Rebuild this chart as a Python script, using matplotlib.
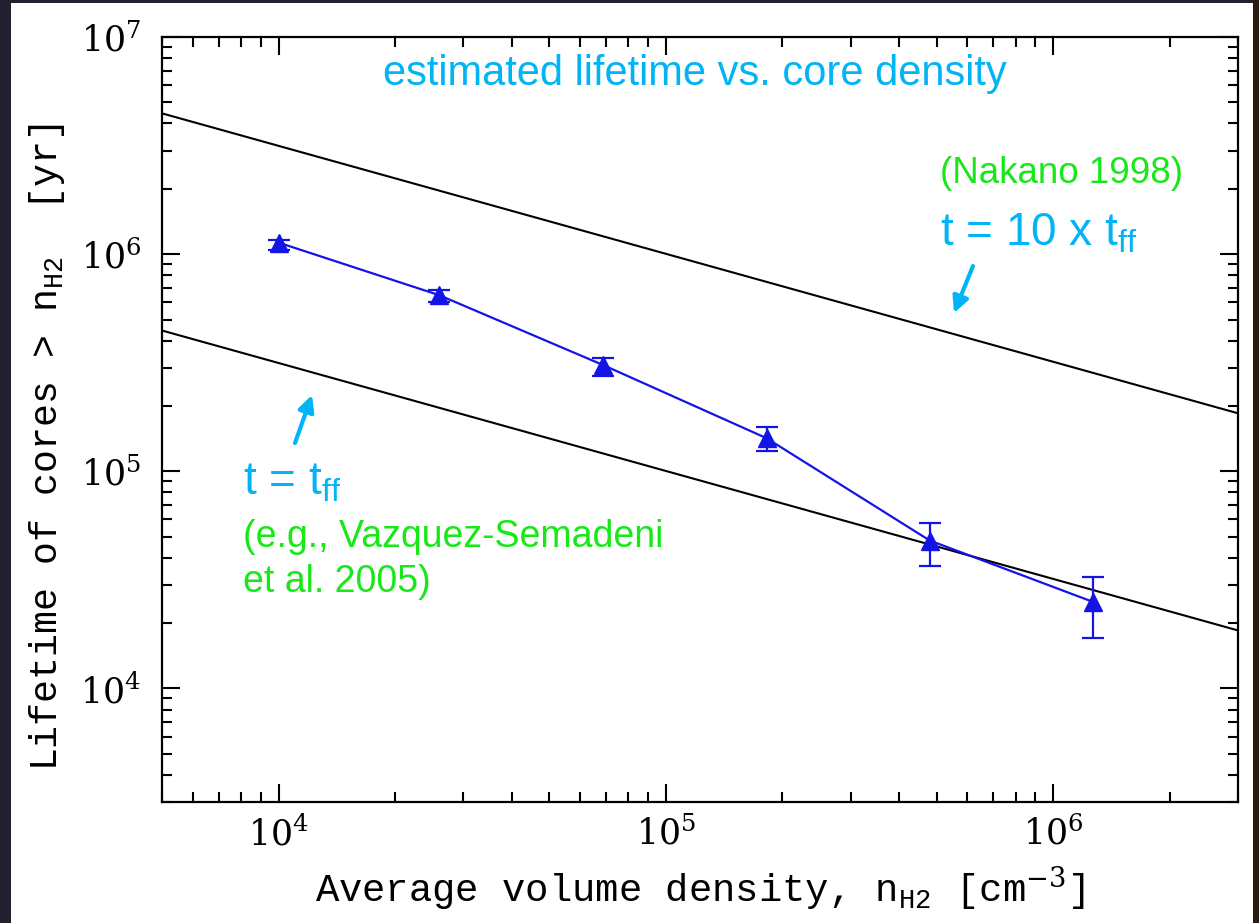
import matplotlib
matplotlib.use('Agg')
import matplotlib.pyplot as plt
from matplotlib.patches import Rectangle, FancyArrowPatch
from matplotlib.ticker import LogLocator, NullFormatter

# measured core lifetimes
density = [1.0e4, 2.6e4, 6.9e4, 1.82e5, 4.8e5, 1.27e6]
lifetime = [1.13e6, 6.47e5, 3.08e5, 1.42e5, 4.8e4, 2.5e4]
life_hi = [1.16e6, 6.82e5, 3.31e5, 1.6e5, 5.75e4, 3.25e4]
life_lo = [1.05e6, 6.01e5, 2.74e5, 1.24e5, 3.65e4, 1.7e4]

# free-fall time lines (end points)
theory_n = [5e3, 3e6]
tff_1 = [4.45e5, 1.85e4]
tff_10 = [4.45e6, 1.85e5]

W, H = 1259, 923
sky = '#00b4f5'
green = '#18e818'
blue = '#1414e6'

plt.rcParams['font.family'] = 'DejaVu Serif'
plt.rcParams['mathtext.fontset'] = 'custom'
plt.rcParams['mathtext.rm'] = 'DejaVu Serif'
plt.rcParams['mathtext.tt'] = 'Liberation Mono'
plt.rcParams['mathtext.sf'] = 'Liberation Sans'

fig = plt.figure(figsize=(W/100, H/100), dpi=100, facecolor='#231f30')
fig.patches.append(Rectangle((11/W, 0), (1253-11)/W, 1-3/H, transform=fig.transFigure,
                             facecolor='white', edgecolor='none', zorder=-2))
fig.patches.append(Rectangle((1253/W, 0), 6/W, 1, transform=fig.transFigure,
                             facecolor='#2b1c10', edgecolor='none', zorder=-2))

ax = fig.add_axes([162/W, 1-802/H, (1238-162)/W, (802-37)/H])
ax.set_zorder(1)
ax.set_xscale('log')
ax.set_yscale('log')
ax.set_xlim(5e3, 3e6)
ax.set_ylim(3e3, 1e7)

ax.plot(theory_n, tff_10, color='black', lw=1.5)
ax.plot(theory_n, tff_1, color='black', lw=1.5)

yerr = [[t - lo for t, lo in zip(lifetime, life_lo)],
        [hi - t for t, hi in zip(lifetime, life_hi)]]
ax.errorbar(density, lifetime, yerr=yerr, color=blue, lw=1.6, marker='^',
            markersize=12.5, capsize=8, capthick=1.6, elinewidth=1.6)

for s in ax.spines.values():
    s.set_linewidth(1.6)
ax.tick_params(which='both', direction='in', top=True, right=True, width=1.5)
ax.tick_params(which='major', length=13, labelsize=25)
ax.tick_params(which='minor', length=7)
ax.tick_params(axis='x', pad=10)
ax.tick_params(axis='y', pad=15)
ax.xaxis.set_minor_locator(LogLocator(subs=range(2, 10)))
ax.yaxis.set_minor_locator(LogLocator(subs=range(2, 10)))
ax.xaxis.set_minor_formatter(NullFormatter())
ax.yaxis.set_minor_formatter(NullFormatter())

fig.text(700/W, 1-902/H, r'Average volume density, n$_{\mathtt{H2}}$ [cm$^{-3}$]',
         family='Liberation Mono', fontsize=28, ha='center', va='baseline')
fig.text(57/W, 1-447/H, r'Lifetime of cores > n$_{\mathtt{H2}}$  [yr]',
         family='Liberation Mono', fontsize=27.5, ha='center', va='baseline',
         rotation=90, rotation_mode='anchor')

# annotations
fig.text(695/W, 1-85/H, 'estimated lifetime vs. core density', color=sky,
         family='Liberation Sans', fontsize=30, ha='center', va='baseline')
fig.text(940/W, 1-183/H, '(Nakano 1998)', color=green,
         family='Liberation Sans', fontsize=26.5, va='baseline')
fig.text(940/W, 1-245/H, r't = 10 x t$_{\mathsf{ff}}$', color=sky,
         family='Liberation Sans', fontsize=33, va='baseline')
fig.text(243/W, 1-495/H, r't = t$_{\mathsf{ff}}$', color=sky,
         family='Liberation Sans', fontsize=33, va='baseline')
fig.text(243/W, 1-547/H, '(e.g., Vazquez-Semadeni', color=green,
         family='Liberation Sans', fontsize=27, va='baseline')
fig.text(243/W, 1-592/H, 'et al. 2005)', color=green,
         family='Liberation Sans', fontsize=27, va='baseline')

arrow = dict(arrowstyle='-|>,head_length=0.8,head_width=0.4', color=sky, lw=3,
             transform=fig.transFigure, mutation_scale=12, shrinkA=0, shrinkB=0,
             zorder=3)
fig.add_artist(FancyArrowPatch((973/W, 1-266/H), (954/W, 1-313/H), **arrow))
fig.add_artist(FancyArrowPatch((295/W, 1-443/H), (312/W, 1-395/H), **arrow))

fig.savefig('out.png', dpi=100, facecolor=fig.get_facecolor())
